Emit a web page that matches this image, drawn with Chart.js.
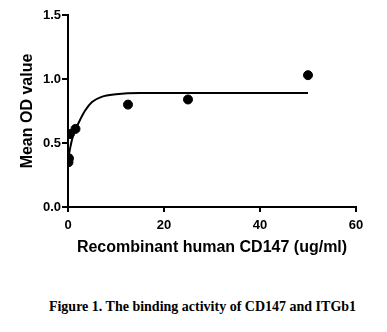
<!DOCTYPE html>
<html><head><meta charset="utf-8">
<script src="https://cdn.jsdelivr.net/npm/chart.js@4/dist/chart.umd.min.js"></script>
<style>
html,body{margin:0;padding:0;background:#fff;}
#wrap{position:relative;width:387px;height:332px;}
#c{position:absolute;left:0;top:0;}
#cap{position:absolute;left:0;width:387px;top:299px;text-align:center;font:bold 14px "Liberation Serif","Times New Roman",serif;color:#000;padding-left:18px;box-sizing:border-box;}
</style></head>
<body><div id="wrap"><canvas id="c" width="387" height="262"></canvas><div id="cap">Figure 1. The binding activity of CD147 and ITGb1</div></div>
<script>
const concentrations = [0.1, 0.2, 0.39, 1.56, 12.5, 25, 50];
const meanOD = [0.35, 0.38, 0.57, 0.61, 0.80, 0.84, 1.03];
const fitX = [0, 0.5, 1, 1.5, 2.5, 3.5, 5, 7, 10, 15, 20, 30, 50];
const fitY = [0.37, 0.47, 0.55, 0.60, 0.68, 0.75, 0.82, 0.86, 0.88, 0.89, 0.89, 0.89, 0.89];
const xTicks = [0, 20, 40, 60];
const yTicks = [0.0, 0.5, 1.0, 1.5];

const tickFont = {family: '"Liberation Sans", Arial, sans-serif', size: 13, weight: 'bold'};
const titleFont = {family: '"Liberation Sans", Arial, sans-serif', size: 16, weight: 'bold'};

new Chart(document.getElementById('c'), {
  type: 'scatter',
  data: {
    datasets: [
      {data: fitX.map((x,i)=>({x, y: fitY[i]})), showLine: true, borderColor: '#000', borderWidth: 2, pointRadius: 0, cubicInterpolationMode: 'monotone', fill: false},
      {data: concentrations.map((x,i)=>({x, y: meanOD[i]})), pointRadius: 4.5, pointBackgroundColor: '#000', pointBorderColor: '#000', showLine: false}
    ]
  },
  options: {
    responsive: false, animation: false,
    layout: {padding: {top: 15, right: 31, left: 0, bottom: 0}},
    plugins: {legend: {display: false}, tooltip: {enabled: false}},
    scales: {
      x: {
        type: 'linear', min: 0, max: 60,
        afterBuildTicks: s => { s.ticks = xTicks.map(v=>({value:v})); },
        afterFit: s => { s.height = 55; },
        grid: {display: true, drawOnChartArea: false, drawTicks: true, tickLength: 5, color: '#000', lineWidth: 2},
        border: {color: '#000', width: 2},
        ticks: {color: '#000', font: tickFont, padding: 6, callback: v => String(v)},
        title: {display: true, text: 'Recombinant human CD147 (ug/ml)', color: '#000', font: titleFont, padding: {top: 5, bottom: 5}}
      },
      y: {
        type: 'linear', min: 0, max: 1.5,
        afterBuildTicks: s => { s.ticks = yTicks.map(v=>({value:v})); },
        afterFit: s => { s.width = 68; },
        grid: {display: true, drawOnChartArea: false, drawTicks: true, tickLength: 6, color: '#000', lineWidth: 2},
        border: {color: '#000', width: 2},
        ticks: {color: '#000', font: tickFont, padding: 1, callback: v => v.toFixed(1)},
        title: {display: true, text: 'Mean OD value', color: '#000', font: titleFont, padding: {top: 18, bottom: 0}}
      }
    }
  }
});
</script></body></html>
